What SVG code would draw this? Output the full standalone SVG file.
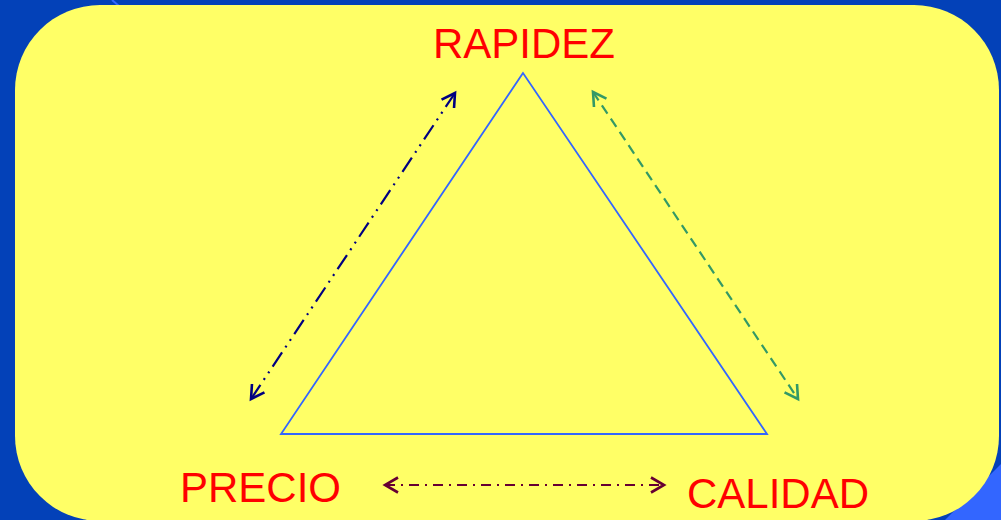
<svg xmlns="http://www.w3.org/2000/svg" width="1001" height="520" viewBox="0 0 1001 520">
  <style>
    .lbl { font-family: "Liberation Sans", Arial, sans-serif; font-size: 42px; fill: #FF0000; }
    .conn { fill: none; stroke-width: 2.2; stroke-linecap: butt; }
  </style>
  <defs>
    <marker id="ahNavy" viewBox="0 0 18 18" refX="15" refY="9" markerWidth="18" markerHeight="18" markerUnits="userSpaceOnUse" orient="auto-start-reverse">
      <path d="M2,1.5 L15,9 L2,16.5" fill="none" stroke="#000080" stroke-width="2.6"/>
    </marker>
    <marker id="ahGreen" viewBox="0 0 18 18" refX="15" refY="9" markerWidth="18" markerHeight="18" markerUnits="userSpaceOnUse" orient="auto-start-reverse">
      <path d="M2,1.5 L15,9 L2,16.5" fill="none" stroke="#339966" stroke-width="2.6"/>
    </marker>
    <marker id="ahPurple" viewBox="0 0 18 18" refX="15" refY="9" markerWidth="18" markerHeight="18" markerUnits="userSpaceOnUse" orient="auto-start-reverse">
      <path d="M2,1.5 L15,9 L2,16.5" fill="none" stroke="#660033" stroke-width="2.6"/>
    </marker>
  </defs>

  <rect x="0" y="0" width="1001" height="520" fill="#0341B8"/>
  <polygon points="1001,464 1001,520 945,520" fill="#3366FF"/>
  <line x1="112" y1="0" x2="119" y2="6" stroke="#3366FF" stroke-width="2"/>
  <rect x="15" y="5" width="984" height="516" rx="85" ry="85" fill="#FFFF66"/>

  <g id="triangle">
    <polygon points="523,73 281,434 767,434" fill="none" stroke="#3366FF" stroke-width="1.8"/>
  </g>

  <g id="node-rapidez"><text class="lbl" x="433" y="58">RAPIDEZ</text></g>
  <g id="node-precio"><text class="lbl" x="180" y="502">PRECIO</text></g>
  <g id="node-calidad"><text class="lbl" x="687" y="508">CALIDAD</text></g>

  <g id="connectors">
    <line class="conn" x1="251" y1="399" x2="455" y2="93" stroke="#000080" stroke-width="2.4" stroke-dasharray="17 6 2 6 2 6" marker-start="url(#ahNavy)" marker-end="url(#ahNavy)"/>
    <line class="conn" x1="593" y1="92" x2="798" y2="399" stroke="#339966" stroke-width="2.8" stroke-dasharray="10 6" marker-start="url(#ahGreen)" marker-end="url(#ahGreen)"/>
    <line class="conn" x1="385" y1="485" x2="664" y2="485" stroke="#660033" stroke-width="2.4" stroke-dasharray="10 6 2 6" marker-start="url(#ahPurple)" marker-end="url(#ahPurple)"/>
  </g>
</svg>
